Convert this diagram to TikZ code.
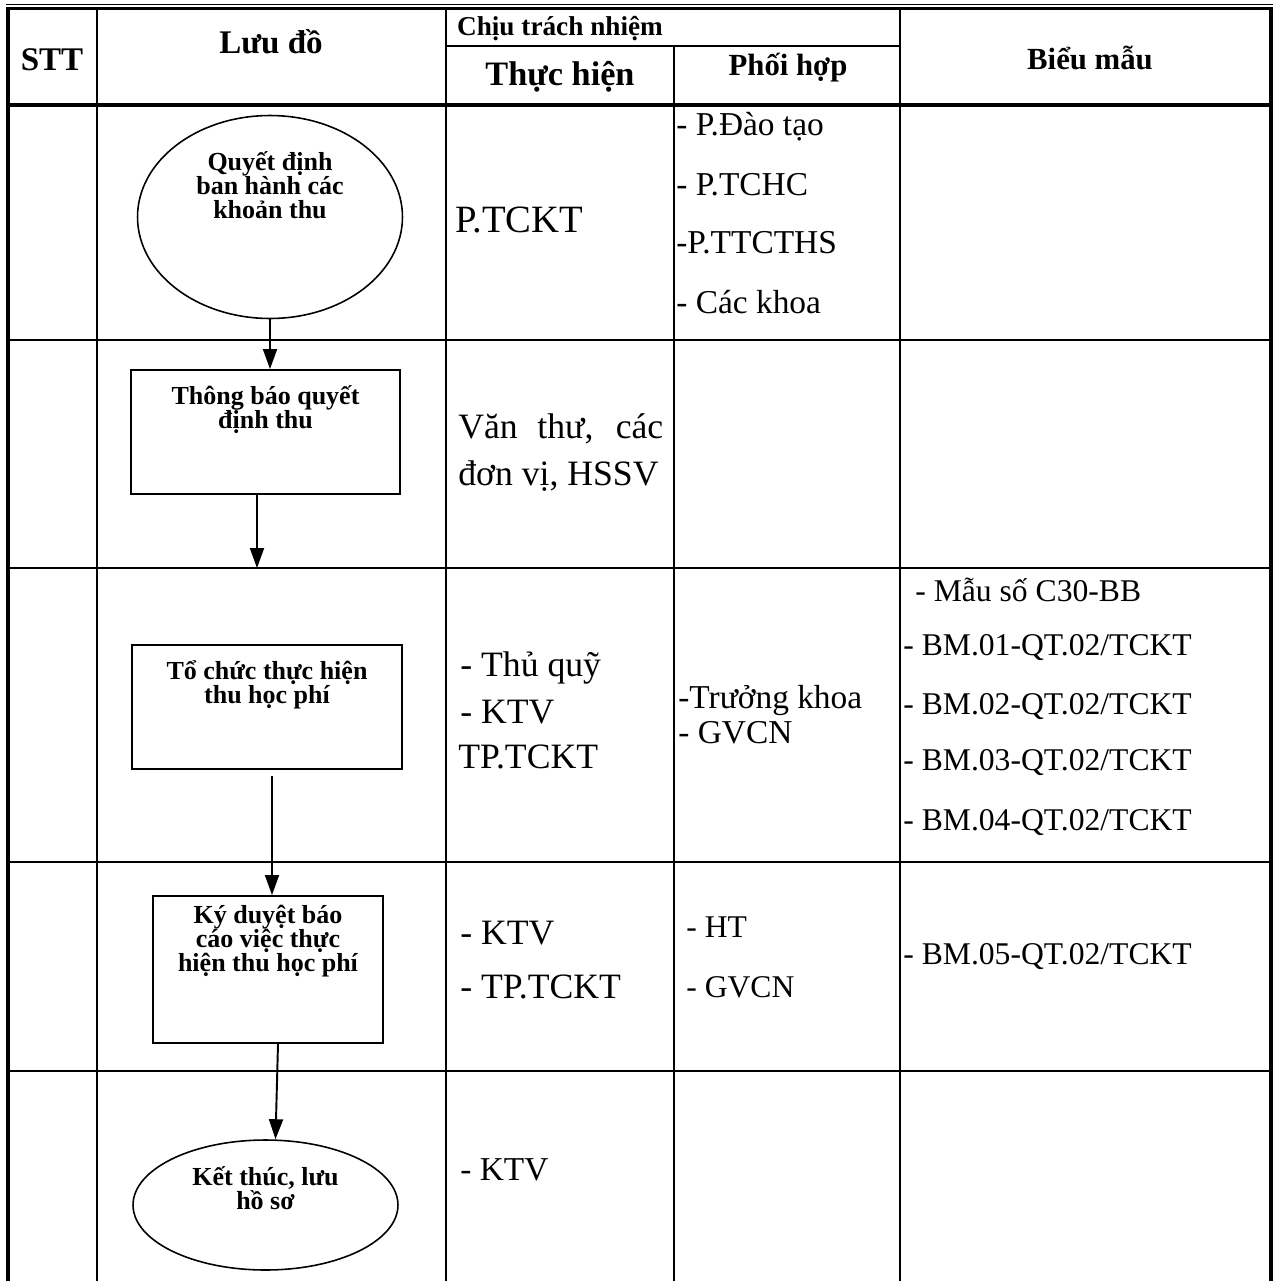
\documentclass[tikz,border=0pt]{standalone}
\usepackage{fontspec}
\setmainfont{Liberation Serif}
\usepackage{tikz}
\usetikzlibrary{positioning,calc,arrows,arrows.meta,shapes.geometric}

\begin{document}
\begin{tikzpicture}[x=0.02cm,y=-0.02cm,auto]
  \tikzstyle{terminal} = [ellipse, draw, line width=0.9pt, align=center, inner sep=0pt, font=\fontsize{14.8}{13.7}\selectfont\bfseries]
  \tikzstyle{process} = [rectangle, draw, line width=1.1pt, align=center, inner sep=0pt, font=\fontsize{14.8}{13.7}\selectfont\bfseries]
  \tikzstyle{head} = [inner sep=0pt, font=\fontsize{18.8}{20}\selectfont\bfseries]
  \tikzstyle{cell} = [anchor=west, inner sep=0pt, align=left, font=\fontsize{18}{26}\selectfont]
  \tikzstyle{doer} = [cell, font=\fontsize{20.3}{26.7}\selectfont]
  \tikzstyle{flow} = [line width=1.1pt, -{Triangle[length=0.4cm,width=0.28cm]}]
  \useasboundingbox (0,0) rectangle (1276,1281);
  % table
  \draw[line width=0.6pt] (6,4.5) -- (1273,4.5);
  \draw[line width=2.2pt] (6,8.5) -- (1273,8.5);
  \draw[line width=2.2pt] (8,105) -- (1271,105);
  \draw[line width=2.2pt] (8,8.5) -- (8,1281);
  \draw[line width=2.2pt] (1271,8.5) -- (1271,1281);
  \draw[line width=1.1pt] (446,46) -- (900,46);
  \foreach \y in {340,568,862,1071}
    \draw[line width=1.4pt] (8,\y) -- (1271,\y);
  \foreach \x in {97,446,900}
    \draw[line width=1.1pt] (\x,8.5) -- (\x,1281);
  \draw[line width=1.1pt] (674,46) -- (674,1281);
  % header
  \node[head] (stt) at (52,60) {STT};
  \node[head] (luudo) at (271,42) {Lưu đồ};
  \node[head, font=\fontsize{15.5}{18}\selectfont\bfseries] (trachnhiem) at (560,29) {Chịu trách nhiệm};
  \node[head, font=\fontsize{19.5}{22}\selectfont\bfseries] (thuchien) at (560,77) {Thực hiện};
  \node[head, font=\fontsize{17.5}{18}\selectfont\bfseries] (phoihop) at (788,68) {Phối hợp};
  \node[head, font=\fontsize{17.5}{20}\selectfont\bfseries] (bieumau) at (1090,58) {Biểu mẫu};
  % flow chart
  \node[terminal, minimum width=5.3cm, minimum height=4.06cm, text depth=1.28cm] (decision) at (270,217) {Quyết định\\ban hành các\\khoản thu};
  \node[process, minimum width=5.38cm, minimum height=2.48cm, text depth=1.0cm] (notice) at (265.5,432) {Thông báo quyết\\định thu};
  \node[process, minimum width=5.4cm, minimum height=2.48cm, text depth=1.0cm] (collect) at (267,707) {Tổ chức thực hiện\\thu học phí};
  \node[process, minimum width=4.6cm, minimum height=2.94cm, text depth=1.24cm] (approve) at (268,969.5) {Ký duyệt báo\\cáo việc thực\\hiện thu học phí};
  \node[terminal, minimum width=5.3cm, minimum height=2.6cm, text depth=0.68cm] (finish) at (265.5,1205) {Kết thúc, lưu\\hồ sơ};
  \coordinate (noticeend) at (257,568);
  \draw[flow] (decision.south) -- (decision.south |- notice.north);
  \draw[flow] (notice.south -| noticeend) -- (noticeend);
  \draw[flow] ($(collect.south)+(5,6)$) -- ($(approve.north)+(4,0)$);
  \draw[flow] ($(approve.south)+(10,0)$) -- ($(finish.north)+(10,0)$);
  % row 1
  \node[doer, font=\fontsize{22}{26}\selectfont] (ptckt) at (455,220) {P.TCKT};
  \node[cell, font=\fontsize{19}{26}\selectfont] (daotao) at (676,127) {- P.Đào tạo};
  \node[cell, font=\fontsize{19}{26}\selectfont] (tchc) at (676,185) {- P.TCHC};
  \node[cell, font=\fontsize{19}{26}\selectfont] (ttcths) at (676,243) {-P.TTCTHS};
  \node[cell, font=\fontsize{19}{26}\selectfont] (khoa) at (676,302) {- Các khoa};
  % row 2
  \node[doer] (vanthu) at (458,453) {\makebox[4.1cm][s]{Văn thư, các}\\đơn vị, HSSV};
  % row 3
  \node[doer] (thuquy) at (460,668) {- Thủ quỹ};
  \node[doer] (ktv3) at (460,712) {- KTV};
  \node[doer] (tp3) at (458,757) {TP.TCKT};
  \node[cell, font=\fontsize{19}{20}\selectfont] (truongkhoa) at (678,715) {-Trưởng khoa\\- GVCN};
  \node[cell] (c30) at (915,590) {- Mẫu số C30-BB};
  \node[cell] (bm1) at (903,648) {- BM.01-QT.02/TCKT};
  \node[cell] (bm2) at (903,707) {- BM.02-QT.02/TCKT};
  \node[cell] (bm3) at (903,763) {- BM.03-QT.02/TCKT};
  \node[cell] (bm4) at (903,823) {- BM.04-QT.02/TCKT};
  % row 4
  \node[doer] (ktv4) at (460,933) {- KTV};
  \node[doer] (tp4) at (460,987) {- TP.TCKT};
  \node[cell] (ht) at (686,927) {- HT};
  \node[cell] (gvcn4) at (686,987) {- GVCN};
  \node[cell] (bm5) at (903,957) {- BM.05-QT.02/TCKT};
  % row 5
  \node[doer, font=\fontsize{19}{26}\selectfont] (ktv5) at (460,1170) {- KTV};
\end{tikzpicture}
\end{document}
